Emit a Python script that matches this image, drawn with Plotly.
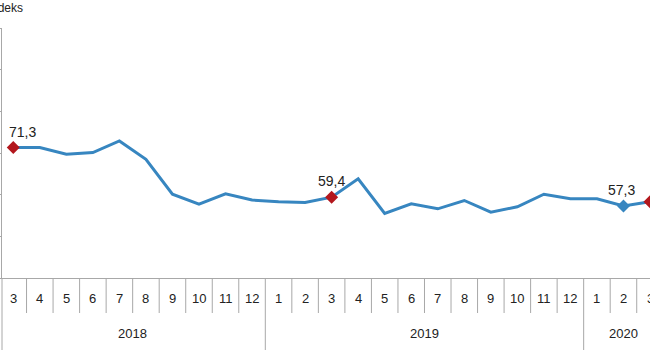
import plotly.graph_objects as go

years = ["2018"] * 10 + ["2019"] * 12 + ["2020"] * 3
months = ["3", "4", "5", "6", "7", "8", "9", "10", "11", "12",
          "1", "2", "3", "4", "5", "6", "7", "8", "9", "10", "11", "12",
          "1", "2", "3"]
values = [71.3, 71.3, 69.7, 70.1, 72.9, 68.5, 60.1, 57.7, 60.2, 58.7,
          58.3, 58.1, 59.4, 63.8, 55.5, 57.8, 56.6, 58.6, 55.8, 57.1,
          60.1, 59.0, 59.0, 57.3, 58.3]
red_idx = [0, 12, 24]
blue_idx = [23]
label_idx = [0, 12, 23]

idx = list(range(len(values)))
LINE = "#3786c0"
RED = "#b3171d"
GRID = "#a8a8a8"
FONT = "Liberation Sans, Arial, sans-serif"
TXT = "#222222"

fig = go.Figure()
fig.add_trace(go.Scatter(x=idx, y=values, mode="lines",
                         line=dict(color=LINE, width=3), cliponaxis=False,
                         hoverinfo="skip"))
fig.add_trace(go.Scatter(x=[idx[i] for i in red_idx], y=[values[i] for i in red_idx],
                         mode="markers", cliponaxis=False,
                         marker=dict(symbol="diamond", size=10, color=RED)))
fig.add_trace(go.Scatter(x=[idx[i] for i in blue_idx], y=[values[i] for i in blue_idx],
                         mode="markers", cliponaxis=False,
                         marker=dict(symbol="diamond", size=10, color=LINE)))

annotations = []
for i in label_idx:
    annotations.append(dict(x=idx[i], y=values[i], xref="x", yref="y",
                            text=f"{values[i]:.1f}".replace(".", ","),
                            showarrow=False, yshift=16, yanchor="middle",
                            xshift=9 if i == 0 else -2 if i == 23 else 0,
                            font=dict(size=14, color=TXT, family=FONT)))
for i, m in enumerate(months):
    annotations.append(dict(x=idx[i], y=-0.08, xref="x", yref="paper", text=m,
                            showarrow=False, yanchor="middle",
                            font=dict(size=13, color=TXT, family=FONT)))

shapes = []
for i in range(1, len(months)):
    y1 = -0.288 if years[i] != years[i - 1] else -0.14
    shapes.append(dict(type="line", xref="x", yref="paper", x0=i - 0.5, x1=i - 0.5,
                       y0=0, y1=y1, line=dict(color=GRID, width=1)))
shapes.append(dict(type="line", xref="paper", yref="paper", x0=0, x1=0,
                   y0=0, y1=-0.288, line=dict(color=GRID, width=1)))

for yr in ["2018", "2019", "2020"]:
    pos = [i for i, y in enumerate(years) if y == yr]
    annotations.append(dict(x=sum(pos) / len(pos), y=-0.22, xref="x", yref="paper", text=yr,
                            showarrow=False, yanchor="middle",
                            font=dict(size=13, color=TXT, family=FONT)))

annotations.append(dict(x=(25 - 2) / 648, y=1 + (28 - 8) / 250, xref="paper", yref="paper",
                        text="Endeks", showarrow=False, xanchor="right", yanchor="middle",
                        font=dict(size=12, color=TXT, family=FONT)))

fig.update_layout(
    width=650, height=360,
    margin=dict(l=2, r=0, t=28, b=82),
    paper_bgcolor="white", plot_bgcolor="white",
    showlegend=False,
    font=dict(family=FONT, size=12, color=TXT),
    annotations=annotations, shapes=shapes,
    xaxis=dict(range=[-0.425, 24.0], showgrid=False, zeroline=False,
               showticklabels=False, ticks="", showline=True, linecolor=GRID,
               linewidth=1),
    yaxis=dict(range=[40, 100], dtick=10, showgrid=False, zeroline=False,
               showticklabels=False, ticks="outside", ticklen=3, tickcolor=GRID,
               showline=True, linecolor=GRID, linewidth=1),
)

fig.write_html("out.html", config={"displayModeBar": False},
               post_script="document.body.style.margin='0px';document.body.style.overflow='hidden';")
